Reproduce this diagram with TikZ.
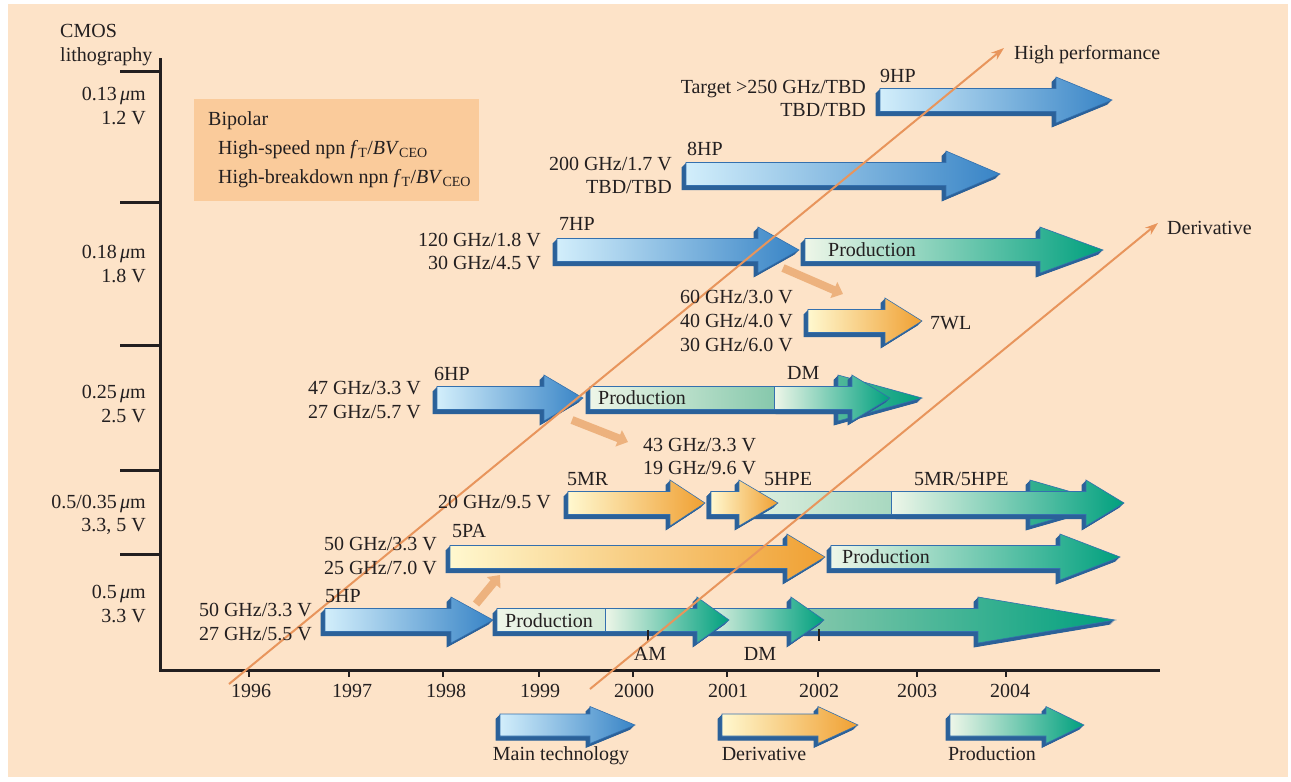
\documentclass[tikz,border=0pt]{standalone}
\usepackage{fontspec}
\setmainfont{Liberation Serif}
\usetikzlibrary{arrows.meta}
\definecolor{bg}{HTML}{FDE3C8}
\definecolor{bipbox}{HTML}{FACB9B}
\definecolor{ink}{HTML}{231F20}
\definecolor{orline}{HTML}{E8955C}
\definecolor{ptrc}{HTML}{EDB27E}
\definecolor{shd}{HTML}{2B6199}
\definecolor{outlc}{HTML}{3470AE}
\definecolor{blL}{HTML}{D2EEFB}
\definecolor{blR}{HTML}{3884C6}
\definecolor{orL}{HTML}{FFF8CF}
\definecolor{orR}{HTML}{F0A032}
\definecolor{grL}{HTML}{EEF6E8}
\definecolor{grR}{HTML}{00A07E}
\definecolor{grM}{HTML}{86C8AC}
\definecolor{grMa}{HTML}{A8D8C0}
\definecolor{grMb}{HTML}{D5EBD8}
\newcommand\arrh{11.5}
\newcommand\arrH{23}
\newcommand\arrshape[4]{(#1,#4-\arrh) -- (#2,#4-\arrh) -- (#2,#4-\arrH) -- (#3,#4) -- (#2,#4+\arrH) -- (#2,#4+\arrh) -- (#1,#4+\arrh) -- cycle}
% x0, xhead, xtip, yc, left colour, right colour
\newcommand\BArrow[6]{%
  \foreach \k in {0.5,1,...,4.5}{\fill[shd,xshift=-\k pt,yshift=-\k pt] \arrshape{#1}{#2}{#3}{#4};}
  \shade[left color=#5,right color=#6] \arrshape{#1}{#2}{#3}{#4};
  \draw[arrline] \arrshape{#1}{#2}{#3}{#4};}
% x0, xbreak, xhead, xtip, yc, l1, r1, l2, r2
\newcommand\SegArrow[9]{%
  \foreach \k in {0.5,1,...,4.5}{\fill[shd,xshift=-\k pt,yshift=-\k pt] \arrshape{#1}{#3}{#4}{#5};}
  \shade[left color=#6,right color=#7] (#1,#5-\arrh) rectangle (#2,#5+\arrh);
  \shade[left color=#8,right color=#9] \arrshape{#2}{#3}{#4}{#5};
  \draw[arrline] \arrshape{#1}{#3}{#4}{#5};
  \draw[arrline] (#2,#5-\arrh) -- (#2,#5+\arrh);}
\tikzset{
  lab/.style={font=\fontsize{20}{24}\selectfont, inner sep=0pt, text=ink},
  arrline/.style={draw=outlc, line width=0.6pt},
  axisl/.style={draw=ink, line width=3pt},
  trend/.style={draw=orline, line width=2pt, -{Stealth[length=13pt,width=9pt]}},
  pointer/.style={draw=ptrc, line width=8pt, -{Triangle[length=10pt,width=17pt]}},
}
\begin{document}
\begin{tikzpicture}[x=1pt,y=-1pt]
\useasboundingbox (0,0) rectangle (1291,782);
\fill[white] (0,0) rectangle (1291,782);
\fill[bg] (8,4) rectangle (1288,777);
\fill[bipbox] (194,99) rectangle (479,201);

% axes
\draw[axisl] (160,58) -- (160,670) -- (1160,670);
\foreach \y in {71,202,345,470,554} \draw[axisl] (120,\y) -- (160,\y);
\foreach \x in {249,349,443,539,633,727,818,917,1006} \draw[draw=ink,line width=2pt] (\x,670) -- (\x,677);

% ---- arrows ----
% 9HP, 8HP
\BArrow{880}{1056}{1112}{100}{blL}{blR}
\BArrow{686}{946}{1000}{174}{blL}{blR}
% 7HP
\BArrow{557}{758}{799}{250}{blL}{blR}
\BArrow{805}{1040}{1103}{250}{grL}{grR}
% 7WL
\BArrow{808}{885}{922}{321}{orL}{orR}
% 6HP
\BArrow{437}{544}{583}{398}{blL}{blR}
\BArrow{780}{838}{922}{398}{grM}{grR}
\SegArrow{590}{774}{852}{890}{398}{grL}{grM}{grL}{grR}
% 5MR / 5HPE
\BArrow{568}{670}{705}{503}{orL}{orR}
\BArrow{900}{1030}{1110}{503}{grM}{grR}
\SegArrow{711}{891}{1086}{1124}{503}{grL}{grMa}{grL}{grR}
\BArrow{711}{739}{778}{503}{orL}{orR}
% 5PA
\BArrow{450}{787}{825}{557}{orL}{orR}
\BArrow{831}{1060}{1120}{557}{grL}{grR}
% 5HP
\BArrow{325}{451}{493}{620}{blL}{blR}
\BArrow{800}{978}{1115}{620}{grM}{grR}
\BArrow{700}{791}{824}{620}{grL}{grR}
\SegArrow{497}{605}{697}{729}{620}{grL}{grMb}{grL}{grR}
% AM / DM ticks
\draw[draw=ink,line width=2pt] (648,630) -- (648,641);
\draw[draw=ink,line width=2pt] (819,629) -- (819,641);

% legend
\begin{scope}
\renewcommand\arrh{11}\renewcommand\arrH{18.5}
\BArrow{500}{590}{635}{725}{blL}{blR}
\BArrow{722}{818}{858}{725}{orL}{orR}
\BArrow{950}{1046}{1084}{725}{grL}{grR}
\end{scope}

% trend lines
\coordinate (hpA) at (229,684);
\coordinate (hpB) at (1004,48);
\coordinate (dvA) at (590,689);
\coordinate (dvB) at (1158,223);
\draw[trend] (hpA) -- (hpB);
\draw[trend] (dvA) -- (dvB);

% pointers
\coordinate (pa1) at (783,268); \coordinate (pb1) at (843,294);
\coordinate (pa2) at (572,420); \coordinate (pb2) at (628,442);
\coordinate (pa3) at (476,604); \coordinate (pb3) at (500,575);
\draw[pointer] (pa1) -- (pb1);
\draw[pointer] (pa2) -- (pb2);
\draw[pointer] (pa3) -- (pb3);

% ---- texts ----
\node[lab,anchor=base west] (cmos) at (60,37) {CMOS};
\node[lab,anchor=base west] (litho) at (60,61) {lithography};
\node[lab,anchor=base east] (l13) at (146,100) {0.13\,{\itshape μ}m};
\node[lab,anchor=base east] (v12) at (146,124) {1.2 V};
\node[lab,anchor=base east] (l18) at (146,258) {0.18\,{\itshape μ}m};
\node[lab,anchor=base east] (v18) at (146,282) {1.8 V};
\node[lab,anchor=base east] (l25) at (146,398) {0.25\,{\itshape μ}m};
\node[lab,anchor=base east] (v25) at (146,422) {2.5 V};
\node[lab,anchor=base east] (l35) at (146,508) {0.5/0.35\,{\itshape μ}m};
\node[lab,anchor=base east] (v35) at (146,531) {3.3, 5 V};
\node[lab,anchor=base east] (l5) at (146,598) {0.5\,{\itshape μ}m};
\node[lab,anchor=base east] (v5) at (146,622) {3.3 V};

\node[lab,anchor=base west] (bip) at (208,125) {Bipolar};
\node[lab,anchor=base west] (bip1) at (218,154) {High-speed npn \textit{f}\textsubscript{T}/\textit{BV}\textsubscript{CEO}};
\node[lab,anchor=base west] (bip2) at (218,183) {High-breakdown npn \textit{f}\textsubscript{T}/\textit{BV}\textsubscript{CEO}};

\node[lab,anchor=base west] (hpl) at (1014,59) {High performance};
\node[lab,anchor=base west] (dvl) at (1167,234) {Derivative};

\node[lab,anchor=base west] (n9) at (880,82) {9HP};
\node[lab,anchor=base east] (t9a) at (866,93) {Target >250 GHz/TBD};
\node[lab,anchor=base east] (t9b) at (866,116) {TBD/TBD};

\node[lab,anchor=base west] (n8) at (687,155) {8HP};
\node[lab,anchor=base east] (t8a) at (672,170) {200 GHz/1.7 V};
\node[lab,anchor=base east] (t8b) at (672,193) {TBD/TBD};

\node[lab,anchor=base west] (n7) at (559,230) {7HP};
\node[lab,anchor=base east] (t7a) at (541,246) {120 GHz/1.8 V};
\node[lab,anchor=base east] (t7b) at (541,269) {30 GHz/4.5 V};
\node[lab,anchor=base west] (p7) at (828,256) {Production};

\node[lab,anchor=base east] (w1) at (793,303) {60 GHz/3.0 V};
\node[lab,anchor=base east] (w2) at (793,327) {40 GHz/4.0 V};
\node[lab,anchor=base east] (w3) at (793,351) {30 GHz/6.0 V};
\node[lab,anchor=base west] (n7wl) at (930,329) {7WL};

\node[lab,anchor=base west] (n6) at (434,380) {6HP};
\node[lab,anchor=base east] (t6a) at (421,394) {47 GHz/3.3 V};
\node[lab,anchor=base east] (t6b) at (421,418) {27 GHz/5.7 V};
\node[lab,anchor=base west] (p6) at (598,404) {Production};
\node[lab,anchor=base west] (dm6) at (787,379) {DM};

\node[lab,anchor=base west] (d1) at (643,451) {43 GHz/3.3 V};
\node[lab,anchor=base west] (d2) at (643,474) {19 GHz/9.6 V};

\node[lab,anchor=base west] (n5mr) at (567,485) {5MR};
\node[lab,anchor=base east] (t5mr) at (551,508) {20 GHz/9.5 V};
\node[lab,anchor=base west] (n5hpe) at (764,485) {5HPE};
\node[lab,anchor=base west] (n5mh) at (914,485) {5MR/5HPE};

\node[lab,anchor=base west] (n5pa) at (452,537) {5PA};
\node[lab,anchor=base east] (t5pa) at (437,550) {50 GHz/3.3 V};
\node[lab,anchor=base east] (t5pb) at (437,574) {25 GHz/7.0 V};
\node[lab,anchor=base west] (p5pa) at (842,563) {Production};

\node[lab,anchor=base west] (n5hp) at (325,602) {5HP};
\node[lab,anchor=base east] (t5a) at (312,616) {50 GHz/3.3 V};
\node[lab,anchor=base east] (t5b) at (312,640) {27 GHz/5.5 V};
\node[lab,anchor=base west] (p5hp) at (505,627) {Production};
\node[lab,anchor=base] (am) at (650,660) {AM};
\node[lab,anchor=base] (dm5) at (760,660) {DM};

\foreach \x/\yr in {251/1996,352/1997,446/1998,540/1999,634/2000,728/2001,819/2002,917/2003,1010/2004}
  \node[lab,anchor=base] (yr\yr) at (\x,697) {\yr};

\node[lab,anchor=base] (lg1) at (561,760) {Main technology};
\node[lab,anchor=base] (lg2) at (764,760) {Derivative};
\node[lab,anchor=base] (lg3) at (992,760) {Production};
\end{tikzpicture}
\end{document}
